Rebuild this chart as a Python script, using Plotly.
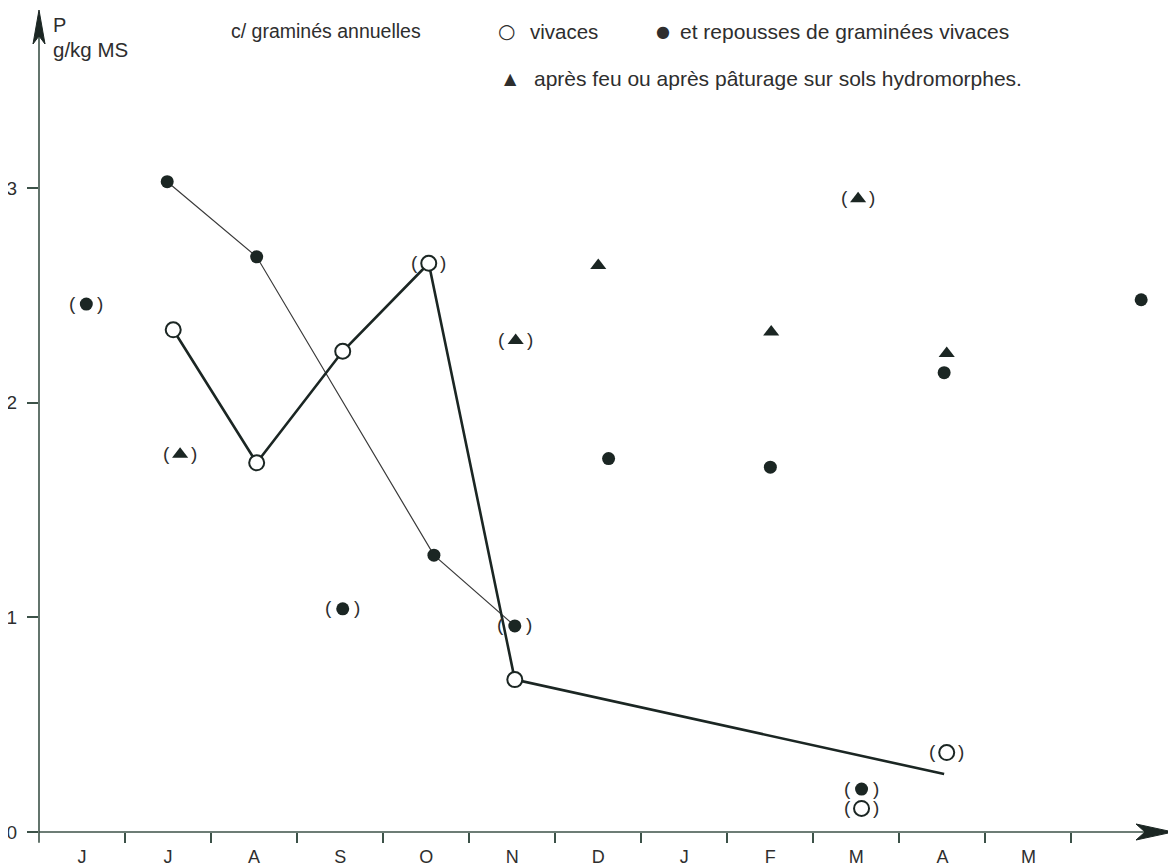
import plotly.graph_objects as go

# ---- data ----
months = ["J", "J", "A", "S", "O", "N", "D", "J", "F", "M", "A", "M"]
month_pos = list(range(12))
month_bounds = [m + 0.5 for m in range(12)]
y_ticks = [0, 1, 2, 3]

# vivaces (open circles), thick line
viv_line_x = [1.06, 2.03, 3.03, 4.03, 5.03, 10.02]
viv_line_y = [2.34, 1.72, 2.24, 2.65, 0.71, 0.27]
viv_x = [1.06, 2.03, 3.03, 4.03, 5.03, 10.05, 9.06]
viv_y = [2.34, 1.72, 2.24, 2.65, 0.71, 0.37, 0.11]
viv_paren = [False, False, False, True, False, True, True]

# annuelles et repousses (filled circles), thin line
rep_line_x = [0.99, 2.03, 4.09, 5.03]
rep_line_y = [3.03, 2.68, 1.29, 0.96]
rep_x = [0.05, 0.99, 2.03, 3.03, 4.09, 5.03, 6.12, 8.0, 9.06, 10.02, 12.31]
rep_y = [2.46, 3.03, 2.68, 1.04, 1.29, 0.96, 1.74, 1.70, 0.20, 2.14, 2.48]
rep_paren = [True, False, False, True, False, True, False, False, True, False, False]

# après feu / pâturage (triangles)
tri_x = [1.14, 5.04, 6.0, 8.01, 9.02, 10.05]
tri_y = [1.76, 2.29, 2.64, 2.33, 2.95, 2.23]
tri_paren = [True, True, False, False, True, False]

X_MIN, X_MAX = -0.5, 12.68
Y_MIN, Y_MAX = 0, 3.83

INK = "#1b2623"
TXT = "#2e2e2e"
AXC = "#3c5248"
FONT = "Liberation Sans, Arial, sans-serif"

fig = go.Figure()

fig.add_trace(go.Scatter(x=rep_line_x, y=rep_line_y, mode="lines",
                         line=dict(color="#3a3a3a", width=1.2),
                         hoverinfo="skip", showlegend=False, cliponaxis=False))
fig.add_trace(go.Scatter(x=viv_line_x, y=viv_line_y, mode="lines",
                         line=dict(color=INK, width=2.6),
                         hoverinfo="skip", showlegend=False, cliponaxis=False))
fig.add_trace(go.Scatter(x=rep_x, y=rep_y, mode="markers",
                         marker=dict(symbol="circle", size=13, color=INK),
                         showlegend=False, cliponaxis=False))
fig.add_trace(go.Scatter(x=viv_x, y=viv_y, mode="markers",
                         marker=dict(symbol="circle", size=15, color="white",
                                     line=dict(color=INK, width=2)),
                         showlegend=False, cliponaxis=False))
fig.add_trace(go.Scatter(x=tri_x, y=tri_y, mode="markers",
                         marker=dict(symbol="triangle-up", size=14, color=INK),
                         showlegend=False, cliponaxis=False))

annotations = []

# parentheses around uncertain values
for xs, ys, flags in [(viv_x, viv_y, viv_paren), (rep_x, rep_y, rep_paren), (tri_x, tri_y, tri_paren)]:
    for x, y, f in zip(xs, ys, flags):
        if not f:
            continue
        for ch, sh in [("(", -14), (")", 14)]:
            annotations.append(dict(x=x, y=y, xref="x", yref="y", text=ch, showarrow=False,
                                    xshift=sh, yshift=1, font=dict(family=FONT, size=19, color=TXT)))

def ptext(px, py, text, size=20, anchor="left", family=FONT):
    annotations.append(dict(x=(px - 39) / 1134, y=(832 - py) / 822, xref="paper", yref="paper",
                            text=text, showarrow=False, xanchor=anchor, yanchor="middle",
                            font=dict(family=family, size=size, color=TXT)))

ptext(51, 25, "P", size=20)
ptext(51, 49, "g/kg MS", size=20.5)
ptext(229, 31, "c/ graminés annuelles", size=19.5)
ptext(496, 31, "○", size=20, family="DejaVu Sans")
ptext(528, 31, "vivaces", size=20.5)
ptext(654, 31, "●", size=16, family="DejaVu Sans")
ptext(678, 31, "et repousses de graminées vivaces", size=21)
ptext(502, 79, "▲", size=16, family="DejaVu Sans")
ptext(532, 79, "après feu ou après pâturage sur sols hydromorphes.", size=21)

# axis lines and their arrow heads (paper-referenced so they are not clipped)
y_below = -0.05 / (Y_MAX - Y_MIN)
shapes = [
    dict(type="line", xref="paper", yref="paper", x0=0, x1=0.985, y0=0, y1=0,
         line=dict(color=AXC, width=1.6)),
    dict(type="line", xref="paper", yref="paper", x0=0, x1=0, y0=y_below, y1=0.98,
         line=dict(color=AXC, width=1.6)),
    dict(type="path", xref="paper", yref="paper", xsizemode="pixel", ysizemode="pixel",
         xanchor=1, yanchor=0, path="M0,0 L-37,8 L-28,0 L-37,-8 Z",
         fillcolor=INK, line=dict(color=INK, width=1)),
    dict(type="path", xref="paper", yref="paper", xsizemode="pixel", ysizemode="pixel",
         xanchor=0, yanchor=1, path="M0,0 L6,-34 L0,-26 L-6,-34 Z",
         fillcolor=INK, line=dict(color=INK, width=1)),
]

# the page adds an 8px body margin, so the figure is 8px smaller than the window
fig.update_layout(
    width=1168, height=858,
    margin=dict(l=31, r=3, t=2, b=34),
    paper_bgcolor="white", plot_bgcolor="white",
    showlegend=False,
    annotations=annotations,
    shapes=shapes,
    xaxis=dict(range=[X_MIN, X_MAX], tickmode="array", tickvals=month_pos, ticktext=months,
               ticks="", showgrid=False, zeroline=False, showline=False, automargin=False,
               tickfont=dict(family=FONT, size=18, color=TXT), ticklabelstandoff=12,
               minor=dict(tickmode="array", tickvals=month_bounds, ticks="outside",
                          ticklen=10, tickwidth=1.5, tickcolor=AXC, showgrid=False)),
    yaxis=dict(range=[Y_MIN, Y_MAX], tickmode="array", tickvals=y_ticks,
               ticks="outside", ticklen=11, tickwidth=1.5, tickcolor=AXC, automargin=False,
               showgrid=False, zeroline=False, showline=False, ticklabelstandoff=6,
               tickfont=dict(family=FONT, size=19, color=TXT)),
)

fig.write_html("out.html")
